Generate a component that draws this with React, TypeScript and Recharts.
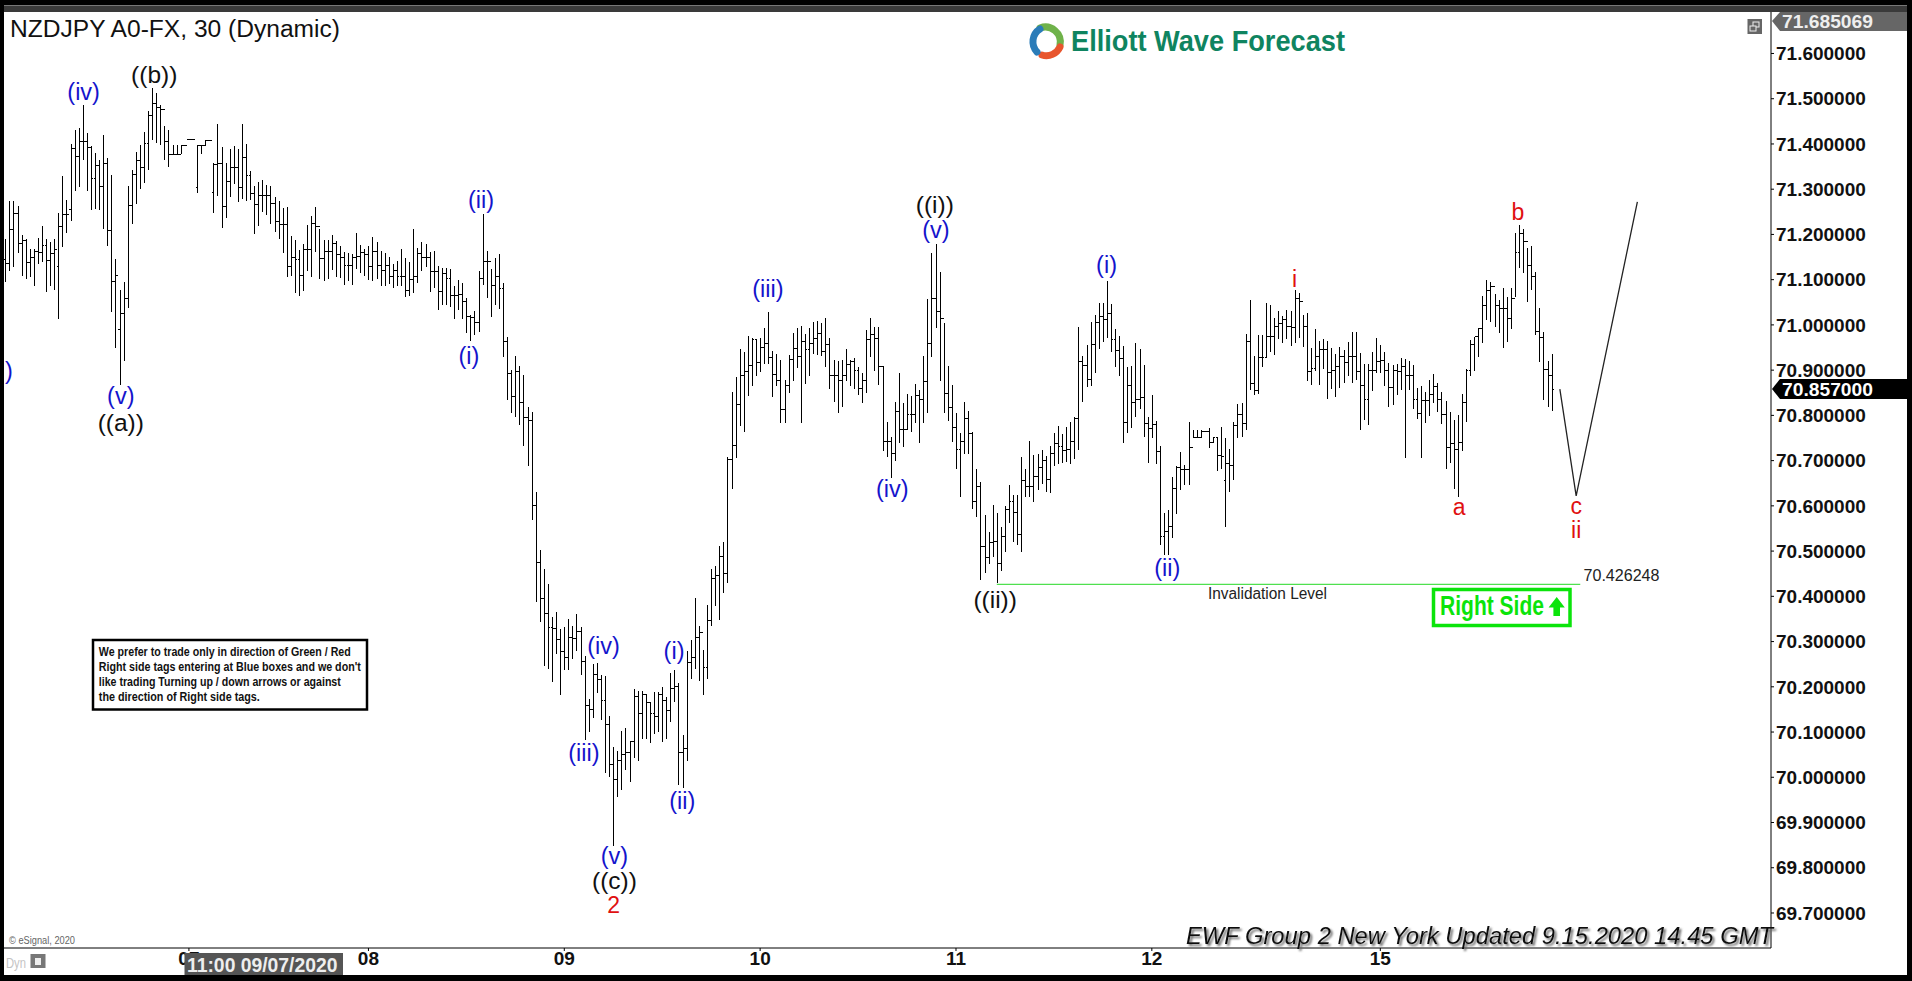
import { Bar, ComposedChart, Line, ReferenceDot, ReferenceLine, XAxis, YAxis } from "recharts";

const FONT = "'Liberation Sans', Arial, sans-serif";

// 30 minute bars
const highs = [
  71.191,71.275,71.275,71.263,71.198,71.191,71.167,71.167,71.193,71.218,
  71.191,71.184,71.191,71.247,71.329,71.276,71.401,71.430,71.436,71.486,
  71.425,71.395,71.380,71.364,71.419,71.368,71.331,71.145,71.078,71.095,
  71.307,71.343,71.383,71.397,71.427,71.472,71.523,71.513,71.486,71.439,
  71.430,71.397,71.397,71.397,71.398,71.411,71.411,71.397,71.397,71.408,
  71.408,71.357,71.444,71.394,71.357,71.388,71.396,71.388,71.444,71.400,
  71.341,71.307,71.315,71.320,71.309,71.306,71.282,71.274,71.258,71.260,
  71.197,71.188,71.166,71.179,71.221,71.241,71.260,71.213,71.188,71.188,
  71.199,71.185,71.174,71.162,71.158,71.156,71.204,71.177,71.167,71.174,
  71.195,71.184,71.163,71.160,71.151,71.135,71.141,71.168,71.148,71.140,
  71.212,71.169,71.183,71.179,71.162,71.163,71.130,71.125,71.125,71.123,
  71.086,71.099,71.092,71.060,71.022,71.031,71.119,71.245,71.163,71.124,
  71.149,71.157,71.093,70.974,70.900,70.931,70.909,70.889,70.818,70.807,
  70.630,70.503,70.460,70.428,70.355,70.366,70.328,70.332,70.350,70.334,
  70.361,70.332,70.268,70.174,70.250,70.253,70.227,70.223,70.136,70.066,
  70.059,70.103,70.109,70.078,70.195,70.190,70.191,70.184,70.166,70.188,
  70.188,70.199,70.178,70.231,70.237,70.209,70.093,70.279,70.304,70.397,
  70.334,70.282,70.381,70.460,70.467,70.511,70.521,70.708,70.852,70.884,
  70.947,70.941,70.975,70.971,70.967,70.972,70.994,71.028,70.943,70.935,
  70.923,70.878,70.934,70.982,70.993,70.998,70.980,70.994,71.006,71.009,
  71.005,71.015,70.972,70.923,70.921,70.923,70.946,70.923,70.926,70.908,
  70.893,70.989,71.015,70.995,70.996,70.909,70.785,70.753,70.829,70.893,
  70.827,70.847,70.843,70.870,70.856,70.931,71.057,71.160,71.178,71.116,
  71.004,70.909,70.867,70.806,70.760,70.829,70.810,70.764,70.682,70.652,
  70.580,70.543,70.602,70.585,70.554,70.600,70.646,70.624,70.623,70.707,
  70.681,70.743,70.712,70.715,70.723,70.710,70.732,70.762,70.776,70.759,
  70.774,70.785,70.796,70.996,70.931,70.956,71.006,71.022,71.048,71.048,
  71.097,71.046,70.992,70.975,70.953,70.908,70.909,70.961,70.947,70.911,
  70.797,70.845,70.788,70.732,70.585,70.591,70.663,70.688,70.718,70.690,
  70.785,70.768,70.768,70.768,70.766,70.771,70.751,70.753,70.774,70.751,
  70.726,70.785,70.825,70.828,70.980,71.055,70.931,70.978,70.978,71.049,
  71.044,71.015,71.031,71.020,71.033,71.031,71.077,71.070,71.022,71.027,
  70.948,70.990,70.964,70.968,70.964,70.948,70.936,70.952,70.945,70.962,
  70.984,70.984,70.937,70.914,70.914,70.939,70.970,70.956,70.939,70.915,
  70.911,70.913,70.926,70.924,70.920,70.911,70.860,70.865,70.851,70.878,
  70.891,70.871,70.852,70.832,70.808,70.790,70.801,70.847,70.902,70.967,
  70.974,70.994,71.064,71.099,71.094,71.068,71.055,71.081,71.061,71.081,
  71.204,71.221,71.212,71.171,71.174,71.118,71.037,70.984,70.920,70.936,
];

const lows = [
  71.094,71.120,71.129,71.158,71.108,71.101,71.106,71.086,71.134,71.139,
  71.073,71.086,71.077,71.013,71.173,71.203,71.230,71.296,71.304,71.364,
  71.296,71.254,71.257,71.255,71.213,71.175,71.029,70.949,70.867,70.920,
  71.038,71.223,71.267,71.301,71.314,71.343,71.408,71.402,71.397,71.364,
  71.349,71.377,71.377,71.377,71.396,71.409,71.409,71.292,71.377,71.396,
  71.407,71.248,71.285,71.215,71.237,71.283,71.311,71.272,71.278,71.273,
  71.276,71.202,71.218,71.250,71.243,71.223,71.206,71.191,71.160,71.107,
  71.109,71.071,71.065,71.076,71.120,71.107,71.162,71.101,71.098,71.101,
  71.121,71.107,71.103,71.089,71.098,71.089,71.124,71.114,71.109,71.099,
  71.098,71.101,71.085,71.087,71.090,71.081,71.085,71.087,71.062,71.065,
  71.070,71.093,71.120,71.127,71.073,71.081,71.033,71.043,71.043,71.040,
  71.013,71.033,71.013,70.981,70.965,70.978,70.985,71.088,71.059,71.018,
  71.044,71.035,70.928,70.834,70.805,70.797,70.779,70.732,70.689,70.568,
  70.387,70.343,70.245,70.239,70.211,70.272,70.181,70.237,70.237,70.261,
  70.279,70.225,70.083,70.099,70.130,70.186,70.126,70.010,70.000,69.848,
  69.957,69.971,70.016,69.990,70.042,70.037,70.085,70.085,70.075,70.095,
  70.100,70.079,70.085,70.123,70.166,69.984,69.977,70.037,70.217,70.239,
  70.212,70.182,70.217,70.334,70.379,70.347,70.407,70.430,70.637,70.705,
  70.777,70.764,70.842,70.864,70.888,70.896,70.913,70.913,70.841,70.864,
  70.783,70.784,70.850,70.877,70.904,70.784,70.870,70.886,70.936,70.934,
  70.931,70.908,70.858,70.830,70.806,70.819,70.877,70.864,70.858,70.845,
  70.828,70.850,70.928,70.899,70.867,70.722,70.707,70.661,70.700,70.738,
  70.729,70.768,70.763,70.783,70.738,70.784,70.806,70.930,70.994,70.877,
  70.805,70.788,70.742,70.682,70.620,70.715,70.714,70.592,70.575,70.436,
  70.451,70.471,70.488,70.430,70.455,70.499,70.561,70.521,70.514,70.499,
  70.620,70.620,70.608,70.636,70.648,70.631,70.628,70.689,70.692,70.695,
  70.698,70.692,70.703,70.723,70.830,70.862,70.865,70.894,70.946,70.963,
  70.970,70.939,70.908,70.888,70.740,70.760,70.773,70.797,70.814,70.753,
  70.694,70.749,70.692,70.513,70.491,70.491,70.530,70.582,70.636,70.646,
  70.645,70.751,70.751,70.751,70.765,70.727,70.738,70.678,70.681,70.554,
  70.631,70.657,70.751,70.753,70.768,70.855,70.844,70.847,70.906,70.930,
  70.939,70.933,70.969,70.959,70.969,70.954,70.961,70.970,70.952,70.876,
  70.867,70.899,70.867,70.902,70.836,70.858,70.841,70.860,70.872,70.886,
  70.871,70.878,70.768,70.790,70.779,70.854,70.893,70.894,70.864,70.819,
  70.822,70.845,70.856,70.705,70.856,70.814,70.792,70.706,70.784,70.799,
  70.827,70.808,70.782,70.681,70.695,70.637,70.619,70.722,70.786,70.886,
  70.899,70.928,70.961,71.011,71.007,70.995,70.983,70.948,70.963,70.990,
  71.061,71.125,71.114,71.051,71.077,70.978,70.919,70.833,70.818,70.810,
];

const opens = [
  71.145,71.136,71.211,71.247,71.180,71.187,71.139,71.150,71.162,71.159,
  71.176,71.143,71.158,71.130,71.218,71.243,71.255,71.390,71.373,71.405,
  71.405,71.392,71.324,71.353,71.307,71.357,71.208,71.096,70.990,71.025,
  71.058,71.265,71.333,71.364,71.348,71.401,71.464,71.489,71.481,71.476,
  71.406,71.377,71.377,71.377,71.397,71.410,71.410,71.304,71.397,71.397,
  71.408,71.292,71.355,71.357,71.262,71.318,71.348,71.348,71.304,71.371,
  71.331,71.290,71.266,71.287,71.287,71.287,71.269,71.228,71.221,71.221,
  71.129,71.149,71.145,71.110,71.166,71.166,71.225,71.217,71.147,71.162,
  71.162,71.180,71.156,71.149,71.131,71.131,71.149,71.151,71.160,71.156,
  71.130,71.163,71.131,71.120,71.132,71.108,71.121,71.108,71.107,71.076,
  71.101,71.107,71.158,71.149,71.149,71.118,71.118,71.073,71.114,71.103,
  71.066,71.066,71.068,71.051,71.018,71.017,71.005,71.103,71.141,71.141,
  71.088,71.107,71.081,70.963,70.893,70.841,70.897,70.829,70.795,70.789,
  70.600,70.474,70.395,70.363,70.332,70.328,70.304,70.278,70.265,70.308,
  70.306,70.322,70.257,70.158,70.149,70.227,70.217,70.170,70.116,70.029,
  69.995,70.036,70.051,70.055,70.078,70.178,70.142,70.182,70.166,70.142,
  70.134,70.182,70.170,70.148,70.197,70.200,70.054,70.063,70.253,70.265,
  70.308,70.320,70.242,70.347,70.440,70.446,70.489,70.450,70.702,70.734,
  70.825,70.888,70.897,70.910,70.967,70.917,70.951,70.959,70.927,70.891,
  70.878,70.812,70.867,70.923,70.947,70.930,70.963,70.945,70.959,70.970,
  70.982,70.941,70.956,70.889,70.888,70.878,70.889,70.912,70.919,70.900,
  70.860,70.877,70.967,70.978,70.970,70.908,70.742,70.742,70.716,70.808,
  70.769,70.769,70.801,70.801,70.844,70.836,70.875,70.959,71.059,71.029,
  71.015,70.849,70.818,70.774,70.725,70.743,70.794,70.759,70.609,70.643,
  70.510,70.486,70.519,70.521,70.473,70.532,70.591,70.609,70.585,70.536,
  70.657,70.643,70.643,70.664,70.685,70.701,70.659,70.715,70.737,70.732,
  70.723,70.725,70.742,70.793,70.919,70.911,70.880,70.957,71.006,71.018,
  71.011,71.026,70.967,70.943,70.925,70.785,70.867,70.828,70.835,70.840,
  70.782,70.771,70.780,70.721,70.532,70.543,70.554,70.639,70.685,70.681,
  70.681,70.729,70.751,70.751,70.765,70.765,70.740,70.751,70.712,70.655,
  70.694,70.690,70.777,70.802,70.782,70.963,70.871,70.856,70.928,70.928,
  70.974,70.974,70.996,71.003,71.011,70.996,70.995,71.059,71.051,70.996,
  70.897,70.904,70.931,70.945,70.946,70.895,70.899,70.909,70.931,70.917,
  70.930,70.930,70.897,70.867,70.834,70.900,70.900,70.919,70.921,70.900,
  70.862,70.900,70.898,70.909,70.889,70.888,70.835,70.804,70.833,70.833,
  70.846,70.864,70.834,70.801,70.729,70.737,70.725,70.740,70.828,70.900,
  70.956,70.974,70.992,71.044,71.077,71.086,71.044,71.037,71.037,71.015,
  71.059,71.160,71.201,71.184,71.132,71.107,70.985,70.973,70.902,70.889,
];

const closes = [
  71.136,71.211,71.247,71.180,71.187,71.139,71.150,71.162,71.159,71.176,
  71.143,71.158,71.167,71.218,71.243,71.243,71.390,71.373,71.405,71.405,
  71.392,71.324,71.353,71.307,71.357,71.208,71.096,71.110,71.025,71.058,
  71.265,71.333,71.364,71.348,71.401,71.464,71.489,71.481,71.476,71.406,
  71.377,71.377,71.377,71.397,71.397,71.410,71.410,71.397,71.397,71.408,
  71.408,71.355,71.357,71.262,71.318,71.348,71.348,71.304,71.371,71.331,
  71.290,71.266,71.287,71.287,71.287,71.269,71.228,71.221,71.221,71.129,
  71.149,71.145,71.110,71.166,71.166,71.225,71.217,71.147,71.162,71.162,
  71.180,71.156,71.149,71.131,71.131,71.149,71.151,71.160,71.156,71.130,
  71.163,71.131,71.120,71.132,71.108,71.121,71.108,71.107,71.076,71.101,
  71.107,71.158,71.149,71.149,71.118,71.118,71.073,71.114,71.103,71.066,
  71.066,71.068,71.051,71.018,71.017,71.005,71.103,71.141,71.141,71.088,
  71.107,71.081,70.963,70.893,70.841,70.897,70.829,70.795,70.789,70.600,
  70.474,70.395,70.363,70.332,70.328,70.304,70.278,70.265,70.308,70.306,
  70.322,70.257,70.158,70.149,70.227,70.217,70.170,70.116,70.029,69.995,
  70.036,70.051,70.055,70.078,70.178,70.142,70.182,70.166,70.142,70.134,
  70.182,70.170,70.148,70.197,70.200,70.054,70.063,70.253,70.265,70.308,
  70.320,70.242,70.347,70.440,70.446,70.489,70.450,70.702,70.734,70.825,
  70.888,70.897,70.910,70.967,70.917,70.951,70.959,70.927,70.891,70.878,
  70.812,70.867,70.923,70.947,70.930,70.963,70.945,70.959,70.970,70.982,
  70.941,70.956,70.889,70.888,70.878,70.889,70.912,70.919,70.900,70.860,
  70.877,70.967,70.978,70.970,70.908,70.742,70.742,70.716,70.808,70.769,
  70.769,70.801,70.801,70.844,70.836,70.875,70.959,71.059,71.029,71.015,
  70.849,70.818,70.774,70.725,70.743,70.794,70.759,70.609,70.643,70.510,
  70.486,70.519,70.521,70.473,70.532,70.591,70.609,70.585,70.536,70.657,
  70.643,70.643,70.664,70.685,70.701,70.659,70.715,70.737,70.732,70.723,
  70.725,70.742,70.793,70.919,70.911,70.880,70.957,71.006,71.018,71.011,
  71.026,70.967,70.943,70.925,70.785,70.867,70.828,70.835,70.840,70.782,
  70.771,70.780,70.721,70.532,70.543,70.554,70.639,70.685,70.681,70.681,
  70.729,70.751,70.751,70.765,70.765,70.740,70.751,70.712,70.709,70.694,
  70.690,70.777,70.802,70.782,70.963,70.871,70.856,70.928,70.928,70.974,
  70.974,70.996,71.003,71.011,70.996,70.995,71.059,71.051,70.996,70.897,
  70.904,70.931,70.945,70.946,70.895,70.899,70.909,70.931,70.917,70.930,
  70.930,70.897,70.867,70.834,70.900,70.900,70.919,70.921,70.900,70.862,
  70.900,70.898,70.909,70.889,70.888,70.835,70.804,70.833,70.833,70.846,
  70.864,70.834,70.801,70.729,70.737,70.725,70.740,70.828,70.900,70.956,
  70.974,70.992,71.044,71.077,71.086,71.044,71.037,71.037,71.015,71.059,
  71.160,71.201,71.184,71.132,71.107,70.985,70.973,70.902,70.889,70.857,
];

// hand drawn projection after the last bar
const forecastBars = [381, 385, 400];
const forecastPrices = [70.858, 70.622, 71.272];

const priceTicks = [
  69.7, 69.8, 69.9, 70.0, 70.1, 70.2, 70.3, 70.4, 70.5, 70.6,
  70.7, 70.8, 70.9, 71.0, 71.1, 71.2, 71.3, 71.4, 71.5, 71.6,
];
const dayTicks = [45, 89, 137, 185, 233, 281, 337];
const dayLabels = ["07", "08", "09", "10", "11", "12", "15"];

const INVALIDATION = 70.426248;
const invalidationBars = [243, 386];

const blueWaves = [
  { text: ")", bar: 0.9, price: 70.899 },
  { text: "(iv)", bar: 19.2, price: 71.515 },
  { text: "(v)", bar: 28.3, price: 70.843 },
  { text: "(ii)", bar: 116.6, price: 71.277 },
  { text: "(i)", bar: 113.6, price: 70.933 },
  { text: "(iv)", bar: 146.6, price: 70.292 },
  { text: "(iii)", bar: 141.8, price: 70.054 },
  { text: "(v)", bar: 149.3, price: 69.826 },
  { text: "(i)", bar: 163.9, price: 70.279 },
  { text: "(ii)", bar: 165.9, price: 69.948 },
  { text: "(iii)", bar: 186.9, price: 71.081 },
  { text: "(iv)", bar: 217.4, price: 70.637 },
  { text: "(v)", bar: 228.1, price: 71.211 },
  { text: "(i)", bar: 269.9, price: 71.134 },
  { text: "(ii)", bar: 284.8, price: 70.463 },
];
const blackWaves = [
  { text: "((b))", bar: 36.5, price: 71.555 },
  { text: "((a))", bar: 28.3, price: 70.785 },
  { text: "((i))", bar: 227.8, price: 71.266 },
  { text: "((c))", bar: 149.3, price: 69.772 },
  { text: "((ii))", bar: 242.6, price: 70.393 },
];
const redWaves = [
  { text: "2", bar: 149.1, price: 69.718 },
  { text: "i", bar: 316, price: 71.102 },
  { text: "b", bar: 370.7, price: 71.25 },
  { text: "a", bar: 356.3, price: 70.597 },
  { text: "c", bar: 385, price: 70.601 },
  { text: "ii", bar: 385, price: 70.547 },
];

const noteLines = [
  { text: "We prefer to trade only in direction of Green / Red", len: 252 },
  { text: "Right side tags entering at Blue boxes and we don't", len: 262 },
  { text: "like trading Turning up / down arrows or against", len: 242 },
  { text: "the direction of Right side tags.", len: 161 },
];

const rows: any[] = [
  ...highs.map((h, i) => ({ bar: i, range: [lows[i], h], open: opens[i], close: closes[i] })),
  ...forecastBars.map((b, i) => ({ bar: b, forecast: forecastPrices[i] })),
];

const OhlcBar = (props: any) => {
  const { x, y, width, height, payload } = props;
  if (!payload.range) return null;
  const [low, high] = payload.range;
  const cx = x + width / 2;
  const at = (v: number) => (high > low ? y + (height * (high - v)) / (high - low) : y);
  return (
    <g stroke="#000" strokeWidth={1} shapeRendering="crispEdges">
      <line x1={cx} x2={cx} y1={y} y2={y + Math.max(height, 1)} />
      <line x1={cx - 2} x2={cx} y1={at(payload.open)} y2={at(payload.open)} />
      <line x1={cx} x2={cx + 2} y1={at(payload.close)} y2={at(payload.close)} />
    </g>
  );
};

const waveDots = (list: typeof blueWaves, color: string, fontSize: number) =>
  list.map((w, i) => (
    <ReferenceDot
      key={`${color}-${i}`}
      x={w.bar}
      y={w.price}
      r={0}
      stroke="none"
      ifOverflow="visible"
      label={{ value: w.text, position: "center", fill: color, fontSize, fontFamily: FONT }}
    />
  ));

const tagText = { fontFamily: FONT, fontSize: 19, fontWeight: 700, dominantBaseline: "central" } as const;

const Overlay = () => (
  <svg width={1912} height={981} style={{ position: "absolute", left: 0, top: 0, pointerEvents: "none" }}>
    <defs>
      <filter id="ewfShadow" x="-5%" y="-30%" width="110%" height="170%">
        <feDropShadow dx="2" dy="2" stdDeviation="1" floodColor="#666" />
      </filter>
    </defs>

    {/* title and logo */}
    <text x={10} y={37} fontFamily={FONT} fontSize={23} fill="#111" textLength={330} lengthAdjust="spacingAndGlyphs">
      NZDJPY A0-FX, 30 (Dynamic)
    </text>
    <g fill="none" strokeWidth={7} strokeLinecap="round">
      <path d="M1040 28 A15 15 0 0 1 1060 45" stroke="#6fb24a" />
      <path d="M1060 47 A15 15 0 0 1 1042 55" stroke="#e8552d" />
      <path d="M1037 52 A15 15 0 0 1 1040 29" stroke="#2b7cb8" />
    </g>
    <text x={1071} y={51} fontFamily={FONT} fontSize={29} fontWeight={700} fill="#0f8460" textLength={274} lengthAdjust="spacingAndGlyphs">
      Elliott Wave Forecast
    </text>

    {/* window button */}
    <rect x={1747.5} y={19} width={14.5} height={15} fill="#666" />
    <rect x={1753} y={22} width={6} height={5} fill="none" stroke="#eee" />
    <rect x={1750} y={26} width={6} height={5} fill="#666" stroke="#eee" />

    {/* price tags */}
    <polygon points="1772,21 1780,12 1907,12 1907,31 1780,31" fill="#666" />
    <text x={1782} y={21.5} {...tagText} fill="#eee" textLength={91} lengthAdjust="spacingAndGlyphs">71.685069</text>
    <polygon points="1772,389 1780,379 1907,379 1907,399 1780,399" fill="#000" />
    <text x={1782} y={389.5} {...tagText} fill="#fff" textLength={91} lengthAdjust="spacingAndGlyphs">70.857000</text>

    {/* invalidation text */}
    <text x={1208} y={593} fontFamily={FONT} fontSize={16} fill="#222" dominantBaseline="central" textLength={119} lengthAdjust="spacingAndGlyphs">
      Invalidation Level
    </text>
    <text x={1583.5} y={575.5} fontFamily={FONT} fontSize={16} fill="#222" dominantBaseline="central" textLength={76} lengthAdjust="spacingAndGlyphs">
      70.426248
    </text>

    {/* right side box */}
    <rect x={1433.5} y={589.5} width={136.5} height={36} fill="#fff" stroke="#0be40b" strokeWidth={3.5} />
    <text x={1440} y={606} fontFamily={FONT} fontSize={27} fontWeight={700} fill="#0be40b" dominantBaseline="central" textLength={104} lengthAdjust="spacingAndGlyphs">
      Right Side
    </text>
    <path d="M1556.7 597 L1564.8 607.5 L1560 607.5 L1560 616 L1553.4 616 L1553.4 607.5 L1548.6 607.5 Z" fill="#0be40b" />

    {/* note box */}
    <rect x={93} y={640} width={274} height={69.5} fill="#fff" stroke="#000" strokeWidth={2.5} />
    {noteLines.map((l, i) => (
      <text key={i} x={98.8} y={652 + i * 15} fontFamily={FONT} fontSize={12.5} fontWeight={700} fill="#111" dominantBaseline="central" textLength={l.len} lengthAdjust="spacingAndGlyphs">
        {l.text}
      </text>
    ))}

    {/* footer */}
    <text x={9} y={940} fontFamily={FONT} fontSize={10} fill="#666" dominantBaseline="central" textLength={66} lengthAdjust="spacingAndGlyphs">
      © eSignal, 2020
    </text>
    <text x={6} y={962} fontFamily={FONT} fontSize={15} fill="#c4c4c4" dominantBaseline="central" textLength={20} lengthAdjust="spacingAndGlyphs">
      Dyn
    </text>
    <rect x={30.5} y={954} width={15} height={14} fill="#777" />
    <rect x={35} y={958} width={6} height={7} fill="#eee" />
    <rect x={184.5} y={953} width={158.5} height={22} fill="#555" />
    <text x={187} y={964.5} {...tagText} fontSize={20} fill="#eee" textLength={150.5} lengthAdjust="spacingAndGlyphs">
      11:00 09/07/2020
    </text>
    <text x={1186} y={936} fontFamily={FONT} fontSize={23} fontStyle="italic" fill="#111" dominantBaseline="central" filter="url(#ewfShadow)" textLength={587} lengthAdjust="spacingAndGlyphs">
      EWF Group 2 New York Updated 9.15.2020 14.45 GMT
    </text>
  </svg>
);

export default function App() {
  return (
    <div style={{ position: "absolute", left: 0, top: 0, width: 1912, height: 981, background: "#000", overflow: "hidden" }}>
      <div style={{ position: "absolute", left: 4, top: 5, width: 1903, height: 7, background: "#3a3a3a", borderTop: "1px solid #777", boxSizing: "border-box" }} />
      <div style={{ position: "absolute", left: 4, top: 12, width: 1903, height: 963, background: "#fff" }} />
      <ComposedChart
        width={1912}
        height={981}
        data={rows}
        margin={{ top: 12, right: 5, bottom: 6, left: 4 }}
        style={{ position: "absolute", left: 0, top: 0 }}
      >
        <XAxis
          dataKey="bar"
          type="number"
          domain={[-0.32, 432.75]}
          allowDataOverflow
          ticks={dayTicks}
          interval={0}
          height={27}
          stroke="#000"
          tickSize={3}
          tickMargin={1}
          tick={{ fontFamily: FONT, fontSize: 19, fontWeight: 700, fill: "#111" }}
          tickFormatter={(v: number) => dayLabels[dayTicks.indexOf(v)]}
        />
        <YAxis
          orientation="right"
          type="number"
          domain={[69.6226, 71.6917]}
          allowDataOverflow
          ticks={priceTicks}
          interval={0}
          width={136}
          stroke="#000"
          tickSize={3}
          tickMargin={2}
          tick={{ fontFamily: FONT, fontSize: 19, fontWeight: 700, fill: "#111" }}
          tickFormatter={(v: number) => v.toFixed(6)}
        />
        <Bar dataKey="range" barSize={1} shape={OhlcBar} isAnimationActive={false} />
        <Line dataKey="forecast" stroke="#222" strokeWidth={1.3} dot={false} connectNulls isAnimationActive={false} />
        <ReferenceLine
          segment={[
            { x: invalidationBars[0], y: INVALIDATION },
            { x: invalidationBars[1], y: INVALIDATION },
          ]}
          stroke="#4fe04f"
          strokeWidth={1.3}
        />
        {waveDots(blueWaves, "#1414cc", 23.5)}
        {waveDots(blackWaves, "#111", 24.5)}
        {waveDots(redWaves, "#e01010", 23)}
      </ComposedChart>
      <Overlay />
    </div>
  );
}
